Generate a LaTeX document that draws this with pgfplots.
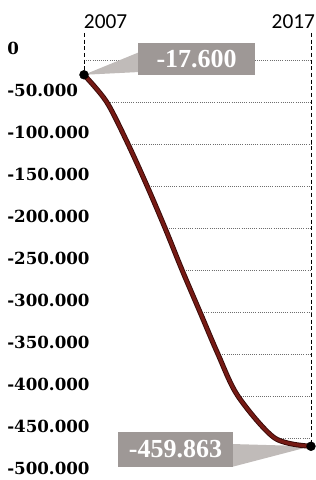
\documentclass[border=0pt]{standalone}
\usepackage{fontspec}
\usepackage{pgfplots}
\usepackage{pgfplotstable}
\pgfplotsset{compat=1.18}
\newfontfamily\ytf{DejaVu Serif}
\newfontfamily\xtf{Carlito}
\newfontfamily\bxf{Liberation Serif}
\definecolor{curve}{RGB}{118,26,20}
\definecolor{curvedark}{RGB}{55,10,8}
\definecolor{boxgray}{RGB}{158,152,150}
\definecolor{wedgegray}{RGB}{192,187,185}
\definecolor{gridc}{RGB}{110,110,110}
\pgfplotstableread{
year value
2007 -17600
2008.0 -50000
2008.94 -100000
2009.78 -150000
2010.57 -200000
2011.32 -250000
2012.11 -300000
2012.9 -350000
2013.78 -400000
2015.4 -450000
2017 -459863
}\balance
\begin{document}
\begin{tikzpicture}
\begin{axis}[
 scale only axis, width=170.25pt, height=335.25pt,
 xmin=2007, xmax=2017, ymin=-500000, ymax=32143,
 clip=false,
 scaled y ticks=false, scaled x ticks=false,
 axis line style={draw=none}, tick style={draw=none}, major tick length=0pt,
 xtick={2007,2017},
 xticklabels={\makebox[0pt][l]{2007},\makebox[0pt][r]{2017\hspace{-3pt}}},
 xticklabel pos=top,
 xticklabel style={anchor=base, yshift=3pt, inner sep=0pt, font=\xtf\fontsize{16}{18}\selectfont},
 ytick={-500000,-450000,-400000,-350000,-300000,-250000,-200000,-150000,-100000,-50000,0},
 yticklabels={-500.000,-450.000,-400.000,-350.000,-300.000,-250.000,-200.000,-150.000,-100.000,-50.000,0},
 yticklabel style={anchor=west, inner sep=0pt, xshift=-57.75pt, yshift=9pt, font=\ytf\bfseries\fontsize{12.5}{14}\selectfont},
 unbounded coords=jump,
]
% horizontal grid segments
\addplot[gridc, densely dotted, line width=0.6pt] coordinates {
(2007,0) (2017,0) (2017,nan)
(2008.05,-50000) (2017,-50000) (2017,nan)
(2009.0,-100000) (2017,-100000) (2017,nan)
(2009.85,-150000) (2017,-150000) (2017,nan)
(2010.65,-200000) (2017,-200000) (2017,nan)
(2011.4,-250000) (2017,-250000) (2017,nan)
(2012.2,-300000) (2017,-300000) (2017,nan)
(2013.0,-350000) (2017,-350000) (2017,nan)
(2013.9,-400000) (2017,-400000) (2017,nan)
(2015.5,-450000) (2017,-450000)
};
% vertical dashed lines
\addplot[black, densely dashed, line width=0.5pt] coordinates {
(2007,32143) (2007,-17600) (2007,nan)
(2017,32143) (2017,-459863)
};
% callout wedges
\addplot[fill=wedgegray, draw=none] coordinates {(2007,-17600) (2009.45,9524) (2009.45,-14286)} -- cycle;
\addplot[fill=wedgegray, draw=none] coordinates {(2017,-459863) (2013.5,-457143) (2013.5,-484524)} -- cycle;
% callout boxes
\node[fill=boxgray, minimum width=87.75pt, minimum height=24pt, inner sep=0pt, text=white,
 font=\bxf\bfseries\fontsize{19.5}{20}\selectfont] at (axis cs:2011.96,1190) {-17.600};
\node[fill=boxgray, minimum width=86.25pt, minimum height=26.25pt, inner sep=0pt, text=white,
 font=\bxf\bfseries\fontsize{19.5}{20}\selectfont] at (axis cs:2011.03,-463690) {-459.863};
% curve
\addplot[smooth, tension=0.5, line width=3.8pt, curvedark] table[x=year, y=value] {\balance};
\addplot[smooth, tension=0.5, line width=2.4pt, curve] table[x=year, y=value] {\balance};
% end points
\addplot[only marks, mark=*, mark size=3.3pt, black] coordinates {(2007,-17600) (2017,-459863)};
\coordinate (bbsw) at (axis cs:2003.30,-500000);
\coordinate (bbne) at (axis cs:2017.22,71429);
\end{axis}
\pgfresetboundingbox
\path[use as bounding box] (bbsw) rectangle (bbne);
\end{tikzpicture}
\end{document}
